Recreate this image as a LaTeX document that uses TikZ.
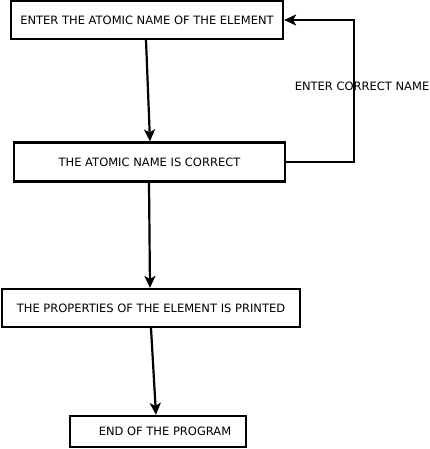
\documentclass[tikz,border=0pt]{standalone}
\usepackage{fontspec}
\setmainfont{DejaVu Sans}
\usetikzlibrary{arrows.meta}
\begin{document}
\begin{tikzpicture}[x=1pt,y=-1pt,
  txt/.style={font=\fontsize{11.5}{13}\selectfont},
  box/.style={draw, line width=2.2pt, inner sep=0pt, txt},
  conn/.style={line width=2.2pt, -{Stealth[length=12pt,width=11pt,inset=3pt]}}]
\useasboundingbox (0,0) rectangle (430,449);
\node[box, minimum width=272pt, minimum height=38pt] (b1) at (147,20) {ENTER THE ATOMIC NAME OF THE ELEMENT};
\node[box, minimum width=271pt, minimum height=39pt] (b2) at (149.5,162) {THE ATOMIC NAME IS CORRECT};
\node[box, minimum width=298pt, minimum height=38pt] (b3) at (151,308) {THE PROPERTIES OF THE ELEMENT IS PRINTED};
\node[box, minimum width=176pt, minimum height=31pt] (b4) at (158,431.5) {\hspace*{14pt}END OF THE PROGRAM};
\node[txt, inner sep=0pt, anchor=east] (lbl) at (429.5,86) {ENTER CORRECT NAME};
\coordinate (fb) at (354,162);
\draw[conn] ([xshift=-1pt]b1.south) -- ([xshift=0.5pt]b2.north);
\draw[conn] ([xshift=-0.5pt]b2.south) -- ([xshift=-1pt]b3.north);
\draw[conn] (b3.south) -- ([xshift=-2pt]b4.north);
\draw[conn] (b2.east) -- (fb) |- (b1.east);
\end{tikzpicture}
\end{document}
